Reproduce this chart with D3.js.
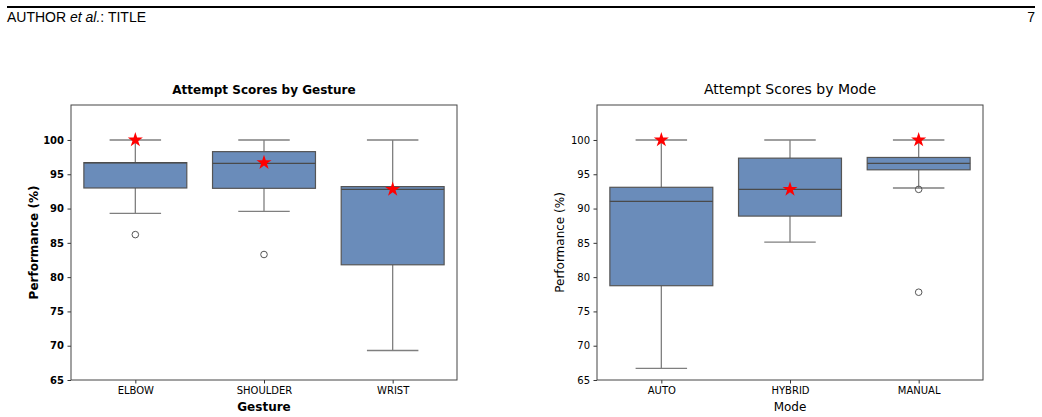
<!DOCTYPE html>
<html>
<head>
<meta charset="utf-8">
<script src="https://cdn.jsdelivr.net/npm/d3@7"></script>
<style>
  body { margin: 0; background: #fff; }
  svg { display: block; }
</style>
</head>
<body>
<div id="chart"></div>
<script>
// Box plot stats (q1, median, q3, whisker low/high)
const gestures = ["ELBOW", "SHOULDER", "WRIST"];
const gestureLow    = [89.3, 89.6, 69.3];
const gestureQ1     = [93.0, 92.95, 81.8];
const gestureMedian = [96.67, 96.6, 92.8];
const gestureQ3     = [96.7, 98.3, 93.2];
const gestureHigh   = [100, 100, 100];
const gestureStar   = [100, 96.7, 92.8];
const gestureOutliers = [[86.2], [83.3], []];

const modes = ["AUTO", "HYBRID", "MANUAL"];
const modeLow    = [66.7, 85.1, 93.0];
const modeQ1     = [78.75, 88.9, 95.65];
const modeMedian = [91.06, 92.8, 96.6];
const modeQ3     = [93.1, 97.35, 97.45];
const modeHigh   = [100, 100, 100];
const modeStar   = [100, 92.8, 100];
const modeOutliers = [[], [], [92.8, 77.8]];

const yTicks = [65, 70, 75, 80, 85, 90, 95, 100];

const W = 1042, H = 417;
const svg = d3.select("#chart").append("svg")
  .attr("width", W).attr("height", H)
  .style("font-family", "'DejaVu Sans', sans-serif");

// --- page header ---
svg.append("line")
  .attr("x1", 7).attr("x2", 1035).attr("y1", 7).attr("y2", 7)
  .attr("stroke", "#000").attr("stroke-width", 2);
const hdr = svg.append("text")
  .attr("x", 7).attr("y", 22)
  .style("font-family", "'Liberation Sans', Arial, sans-serif")
  .style("font-size", "14px");
hdr.append("tspan").text("AUTHOR ");
hdr.append("tspan").style("font-style", "italic").text("et al.");
hdr.append("tspan").text(": TITLE");
svg.append("text")
  .attr("x", 1035).attr("y", 22).attr("text-anchor", "end")
  .style("font-family", "'Liberation Sans', Arial, sans-serif")
  .style("font-size", "14px")
  .text("7");

const star = d3.symbol().type(d3.symbolStar).size(70);

function panel(opts) {
  const { x0, x1, cats, low, q1, med, q3, high, stars, outliers, title, xLabel, bold } = opts;
  const top = 105, bottom = 380;
  const fw = bold ? "bold" : "normal";

  const x = d3.scaleBand().domain(cats).range([x0, x1]).paddingInner(0.2).paddingOuter(0.1);
  const y = d3.scaleLinear().domain([65, 105.1]).range([bottom, top]);
  const cx = c => x(c) + x.bandwidth() / 2;

  const g = svg.append("g");

  // axes
  const yAxis = g.append("g")
    .attr("transform", `translate(${x0},0)`)
    .call(d3.axisLeft(y).tickValues(yTicks).tickSize(3.5).tickPadding(3.5));
  yAxis.select(".domain").remove();
  yAxis.selectAll("line").attr("stroke", "#333");
  yAxis.selectAll("text").style("font-size", "10px").style("font-weight", fw)
    .attr("fill", "#000").style("font-family", "'DejaVu Sans', sans-serif");

  const xScaleCenters = d3.scalePoint().domain(cats).range([cx(cats[0]), cx(cats[cats.length - 1])]);
  const xAxis = g.append("g")
    .attr("transform", `translate(0,${bottom})`)
    .call(d3.axisBottom(xScaleCenters).tickSize(3.5).tickPadding(3.5));
  xAxis.select(".domain").remove();
  xAxis.selectAll("line").attr("stroke", "#333");
  xAxis.selectAll("text").style("font-size", "10px")
    .attr("fill", "#000").style("font-family", "'DejaVu Sans', sans-serif");

  // boxes
  cats.forEach((c, i) => {
    const mx = cx(c);
    const bw = x.bandwidth();
    const cap = bw * 0.5;
    // whiskers
    g.append("line").attr("x1", mx).attr("x2", mx).attr("y1", y(q3[i])).attr("y2", y(high[i]))
      .attr("stroke", "#7f7f7f").attr("stroke-width", 1.3);
    g.append("line").attr("x1", mx).attr("x2", mx).attr("y1", y(q1[i])).attr("y2", y(low[i]))
      .attr("stroke", "#7f7f7f").attr("stroke-width", 1.3);
    g.append("line").attr("x1", mx - cap / 2).attr("x2", mx + cap / 2).attr("y1", y(high[i])).attr("y2", y(high[i]))
      .attr("stroke", "#7f7f7f").attr("stroke-width", 1.3);
    g.append("line").attr("x1", mx - cap / 2).attr("x2", mx + cap / 2).attr("y1", y(low[i])).attr("y2", y(low[i]))
      .attr("stroke", "#7f7f7f").attr("stroke-width", 1.3);
    // box
    g.append("rect")
      .attr("x", x(c)).attr("width", bw)
      .attr("y", y(q3[i])).attr("height", y(q1[i]) - y(q3[i]))
      .attr("fill", "#6a8cba").attr("stroke", "#555").attr("stroke-width", 1.2);
    // median
    g.append("line").attr("x1", x(c)).attr("x2", x(c) + bw).attr("y1", y(med[i])).attr("y2", y(med[i]))
      .attr("stroke", "#4a4a4a").attr("stroke-width", 1.2);
    // outliers
    outliers[i].forEach(v => {
      g.append("circle").attr("cx", mx).attr("cy", y(v)).attr("r", 3.3)
        .attr("fill", "none").attr("stroke", "#555").attr("stroke-width", 1);
    });
  });

  // stars
  cats.forEach((c, i) => {
    g.append("path")
      .attr("d", star)
      .attr("transform", `translate(${cx(c)},${y(stars[i])})`)
      .attr("fill", "#ff0000");
  });

  // frame
  g.append("rect").attr("x", x0).attr("y", top).attr("width", x1 - x0).attr("height", bottom - top)
    .attr("fill", "none").attr("stroke", "#444").attr("stroke-width", 1);

  // labels
  g.append("text").attr("x", (x0 + x1) / 2).attr("y", 94).attr("text-anchor", "middle")
    .style("font-size", bold ? "12px" : "14px").style("font-weight", fw).text(title);
  g.append("text").attr("x", (x0 + x1) / 2).attr("y", 411).attr("text-anchor", "middle")
    .style("font-size", "12px").style("font-weight", fw).text(xLabel);
  g.append("text")
    .attr("transform", `translate(${x0 - 33},${(top + bottom) / 2}) rotate(-90)`)
    .attr("text-anchor", "middle")
    .style("font-size", "12px").style("font-weight", fw).text("Performance (%)");
}

panel({
  x0: 71, x1: 457, cats: gestures,
  low: gestureLow, q1: gestureQ1, med: gestureMedian, q3: gestureQ3, high: gestureHigh,
  stars: gestureStar, outliers: gestureOutliers,
  title: "Attempt Scores by Gesture", xLabel: "Gesture", bold: true
});

panel({
  x0: 597, x1: 983, cats: modes,
  low: modeLow, q1: modeQ1, med: modeMedian, q3: modeQ3, high: modeHigh,
  stars: modeStar, outliers: modeOutliers,
  title: "Attempt Scores by Mode", xLabel: "Mode", bold: false
});
</script>
</body>
</html>
